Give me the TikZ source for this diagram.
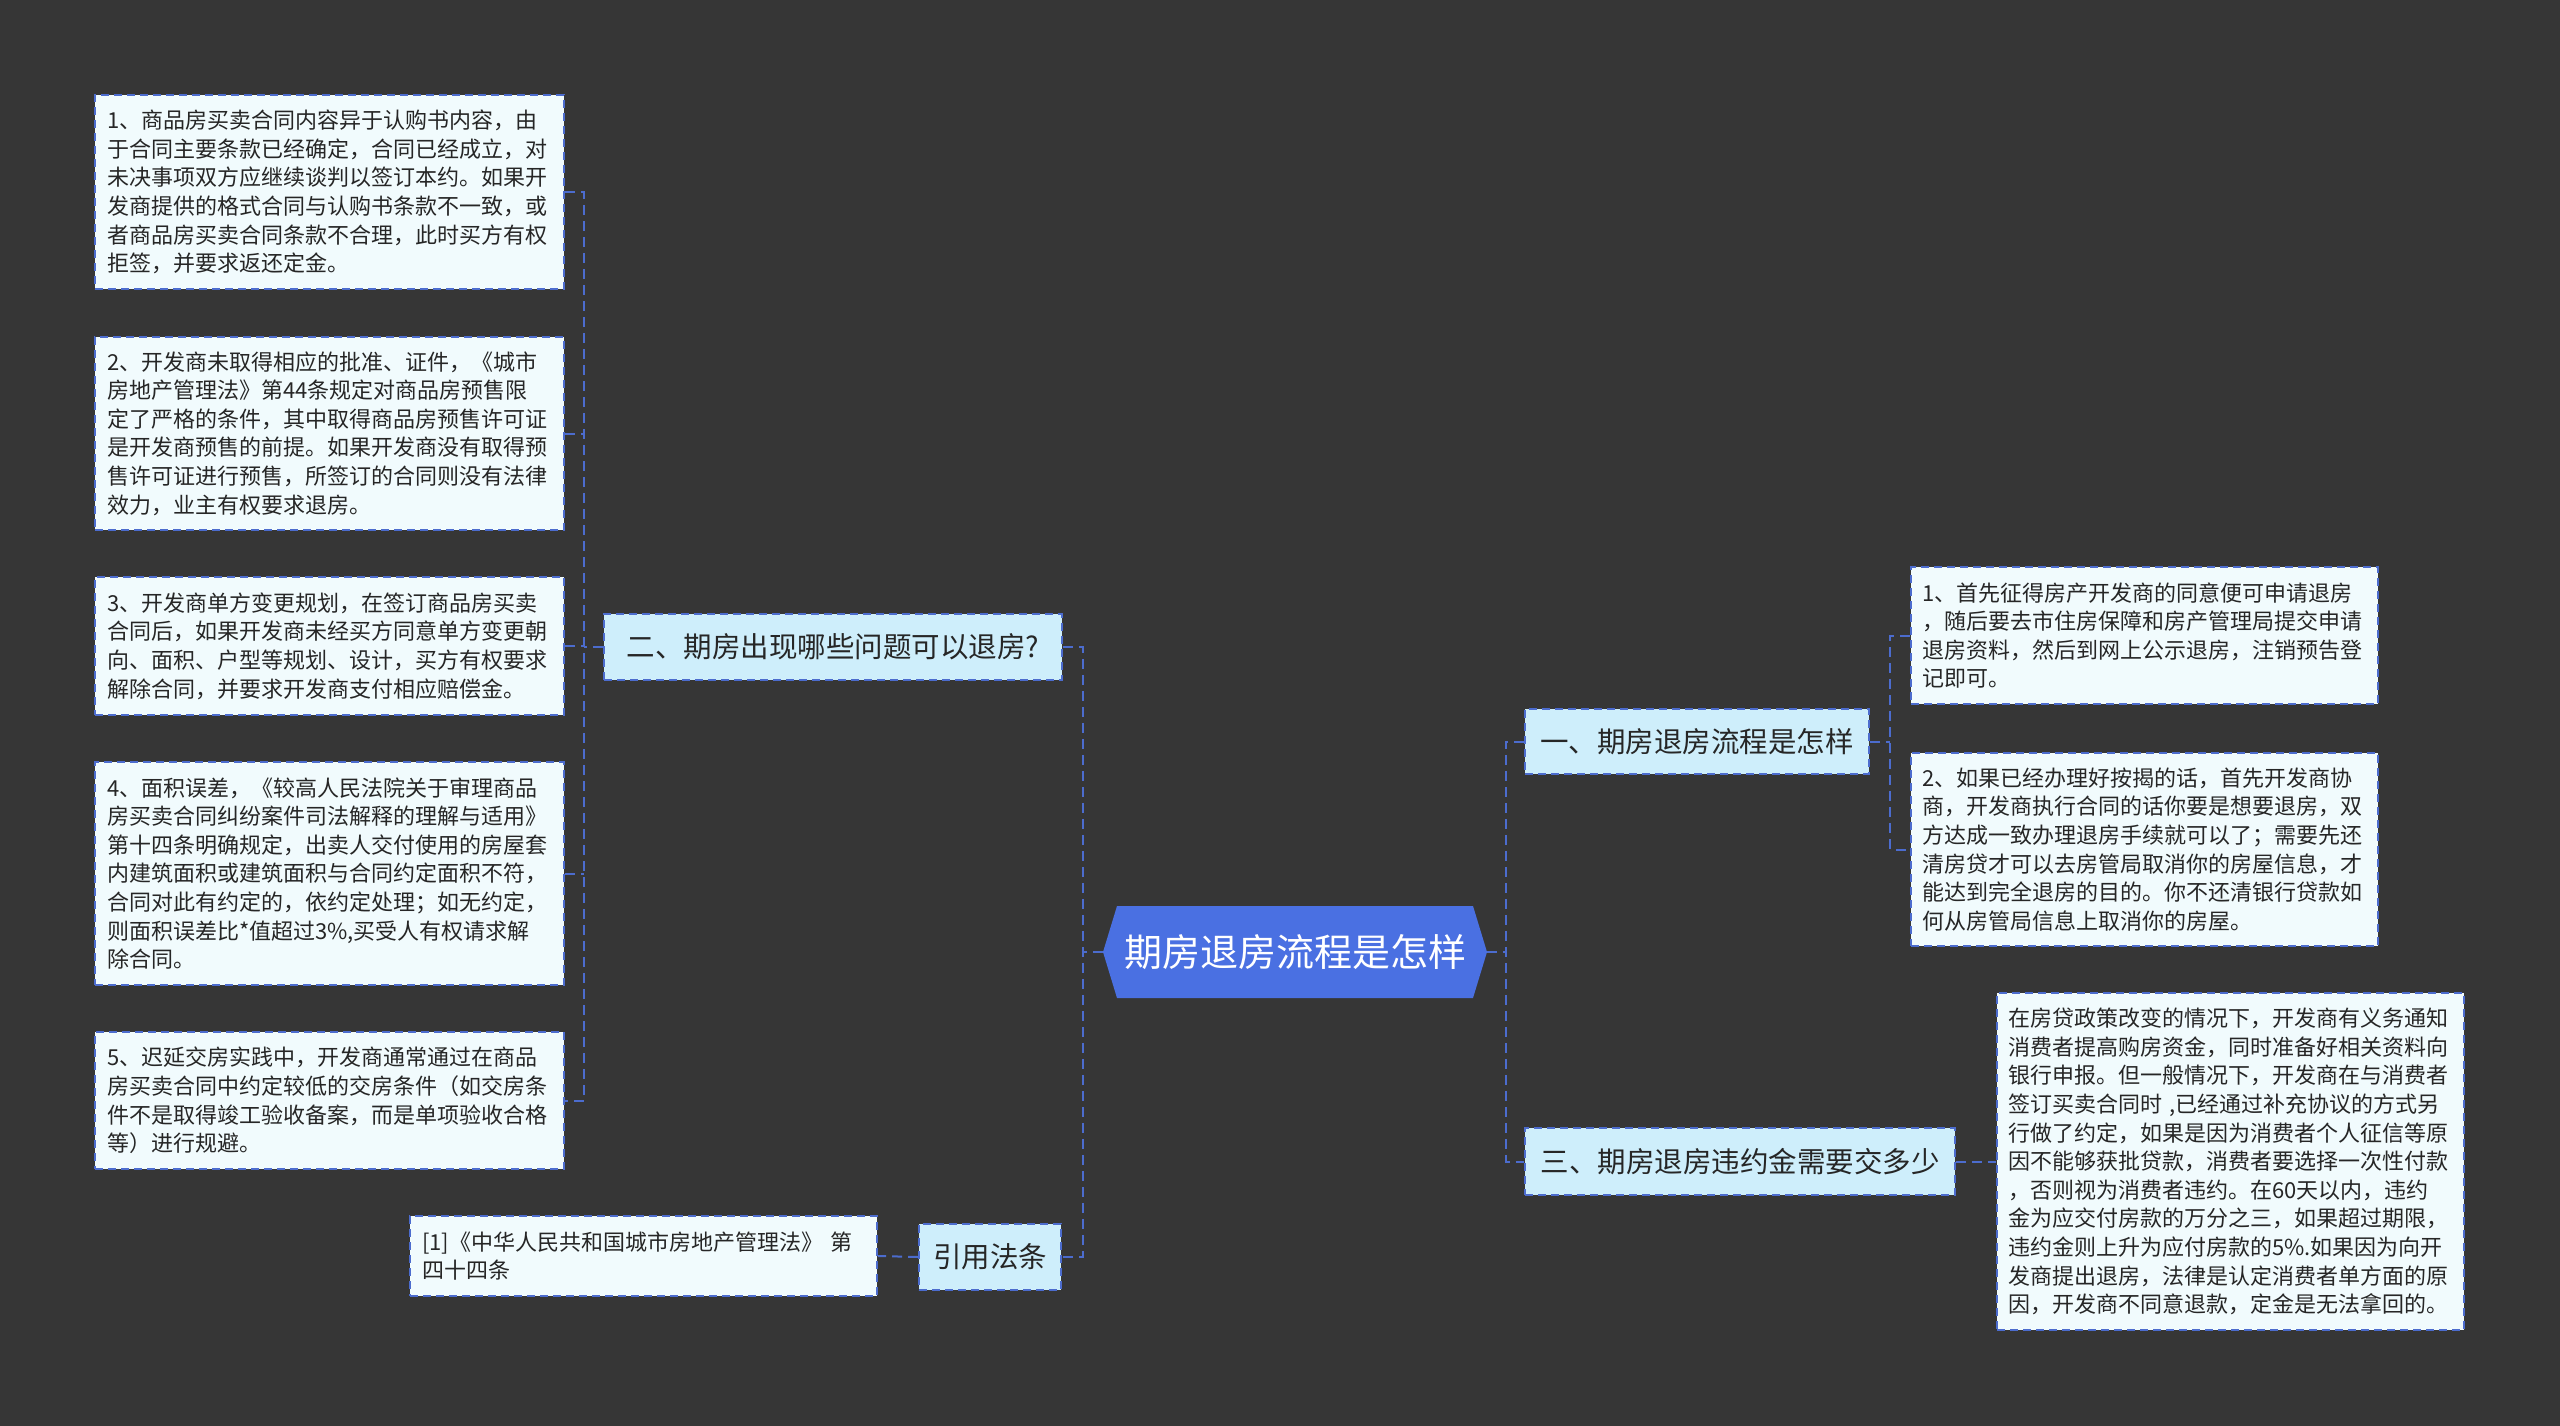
\documentclass[tikz,border=0pt]{standalone}
\usepackage{fontspec}
\newfontfamily\cjk{Noto Sans CJK SC}
\definecolor{bgc}{RGB}{54,54,54}
\definecolor{bordc}{RGB}{76,108,206}
\definecolor{leafc}{RGB}{241,251,253}
\definecolor{branchc}{RGB}{206,238,251}
\definecolor{centc}{RGB}{74,112,226}
\definecolor{txtc}{RGB}{38,38,38}
\tikzset{
  leaf/.style={draw=bordc, line width=1.8pt, dash pattern=on 8pt off 5pt, fill=leafc,
    text=txtc, font=\cjk\fontsize{22}{28.6}\selectfont, align=left,
    inner xsep=12pt, inner ysep=0pt, anchor=center},
  branch/.style={draw=bordc, line width=1.8pt, dash pattern=on 8pt off 5pt, fill=branchc,
    text=txtc, font=\cjk\fontsize{28.5}{34}\selectfont, align=center,
    inner xsep=0pt, inner ysep=0pt, anchor=center},
  centre/.style={text=white, font=\cjk\fontsize{38}{44}\selectfont,
    inner sep=0pt, minimum width=384pt, minimum height=92pt, anchor=center},
  conn/.style={draw=bordc, line width=2pt, dash pattern=on 10pt off 6pt}
}
\begin{document}
\begin{tikzpicture}[x=1pt,y=-1pt]
\fill[bgc] (0,0) rectangle (2560,1426);
\useasboundingbox (0,0) rectangle (2560,1426);

% bus coordinates
\coordinate (lbusA) at (584,0);
\coordinate (lbusB) at (1083,0);
\coordinate (rbusA) at (1506,0);
\coordinate (rbusB) at (1890,0);

% centre
\fill[centc] (1103,952) -- (1117,906) -- (1473,906) -- (1487,952) -- (1473,998) -- (1117,998) -- cycle;
\node[centre] (c) at (1295,952) {期房退房流程是怎样};

% branches
\node[branch, minimum width=458pt, minimum height=66pt] (b2) at (833,647) {二、期房出现哪些问题可以退房?};
\node[branch, minimum width=142pt, minimum height=66pt] (b4) at (990,1257) {引用法条};
\node[branch, minimum width=344pt, minimum height=65pt] (b1) at (1697,741.5) {一、期房退房流程是怎样};
\node[branch, minimum width=430pt, minimum height=67pt] (b3) at (1740,1161.5) {三、期房退房违约金需要交多少};

% left leaves
\node[leaf, minimum width=469pt, minimum height=194pt, text width=445pt] (L1) at (329.5,192) {1、商品房买卖合同内容异于认购书内容，由\\于合同主要条款已经确定，合同已经成立，对\\未决事项双方应继续谈判以签订本约。如果开\\发商提供的格式合同与认购书条款不一致，或\\者商品房买卖合同条款不合理，此时买方有权\\拒签，并要求返还定金。};
\node[leaf, minimum width=469pt, minimum height=193pt, text width=445pt] (L2) at (329.5,433.5) {2、开发商未取得相应的批准、证件，《城市\\房地产管理法》第44条规定对商品房预售限\\定了严格的条件，其中取得商品房预售许可证\\是开发商预售的前提。如果开发商没有取得预\\售许可证进行预售，所签订的合同则没有法律\\效力，业主有权要求退房。};
\node[leaf, minimum width=469pt, minimum height=138pt, text width=445pt] (L3) at (329.5,646) {3、开发商单方变更规划，在签订商品房买卖\\合同后，如果开发商未经买方同意单方变更朝\\向、面积、户型等规划、设计，买方有权要求\\解除合同，并要求开发商支付相应赔偿金。};
\node[leaf, minimum width=469pt, minimum height=223pt, text width=445pt] (L4) at (329.5,873.5) {4、面积误差，《较高人民法院关于审理商品\\房买卖合同纠纷案件司法解释的理解与适用》\\第十四条明确规定，出卖人交付使用的房屋套\\内建筑面积或建筑面积与合同约定面积不符，\\合同对此有约定的，依约定处理；如无约定，\\则面积误差比*值超过3\%,买受人有权请求解\\除合同。};
\node[leaf, minimum width=469pt, minimum height=137pt, text width=445pt] (L5) at (329.5,1100.5) {5、迟延交房实践中，开发商通常通过在商品\\房买卖合同中约定较低的交房条件（如交房条\\件不是取得竣工验收备案，而是单项验收合格\\等）进行规避。};
\node[leaf, minimum width=467pt, minimum height=80pt, text width=443pt] (ref) at (643.5,1256) {[1]《中华人民共和国城市房地产管理法》 第\\四十四条};

% right leaves
\node[leaf, minimum width=467pt, minimum height=137pt, text width=445pt, inner xsep=11pt] (R1) at (2144.5,635.5) {1、首先征得房产开发商的同意便可申请退房\\，随后要去市住房保障和房产管理局提交申请\\退房资料，然后到网上公示退房，注销预告登\\记即可。};
\node[leaf, minimum width=467pt, minimum height=193pt, text width=445pt, inner xsep=11pt] (R2) at (2144.5,849.5) {2、如果已经办理好按揭的话，首先开发商协\\商，开发商执行合同的话你要是想要退房，双\\方达成一致办理退房手续就可以了；需要先还\\清房贷才可以去房管局取消你的房屋信息，才\\能达到完全退房的目的。你不还清银行贷款如\\何从房管局信息上取消你的房屋。};
\node[leaf, minimum width=467pt, minimum height=337pt, text width=445pt, inner xsep=11pt] (R3) at (2230.5,1161.5) {在房贷政策改变的情况下，开发商有义务通知\\消费者提高购房资金，同时准备好相关资料向\\银行申报。但一般情况下，开发商在与消费者\\签订买卖合同时 ,已经通过补充协议的方式另\\行做了约定，如果是因为消费者个人征信等原\\因不能够获批贷款，消费者要选择一次性付款\\，否则视为消费者违约。在60天以内，违约\\金为应交付房款的万分之三，如果超过期限，\\违约金则上升为应付房款的5\%.如果因为向开\\发商提出退房，法律是认定消费者单方面的原\\因，开发商不同意退款，定金是无法拿回的。};

% connectors: centre
\draw[conn] (c.west) -- (c.west -| lbusB);
\draw[conn] (b2.east) -- (b2.east -| lbusB) -- (b4.east -| lbusB) -- (b4.east);
\draw[conn] (c.east) -- (c.east -| rbusA);
\draw[conn] (b1.west) -- (b1.west -| rbusA) -- (b3.west -| rbusA) -- (b3.west);

% connectors: branch two
\draw[conn] (b2.west) -- (b2.west -| lbusA);
\draw[conn] (L1.east) -- (L1.east -| lbusA) -- (L5.east -| lbusA) -- (L5.east);
\draw[conn] (L2.east) -- (L2.east -| lbusA);
\draw[conn] (L3.east) -- (L3.east -| lbusA);
\draw[conn] (L4.east) -- (L4.east -| lbusA);

% connectors: cite
\draw[conn] (b4.west) -- (ref.east);

% connectors: branch one
\draw[conn] (b1.east) -- (b1.east -| rbusB);
\draw[conn] (R1.west) -- (R1.west -| rbusB) -- (R2.west -| rbusB) -- (R2.west);

% connectors: branch three
\draw[conn] (b3.east) -- (R3.west);
\end{tikzpicture}
\end{document}
